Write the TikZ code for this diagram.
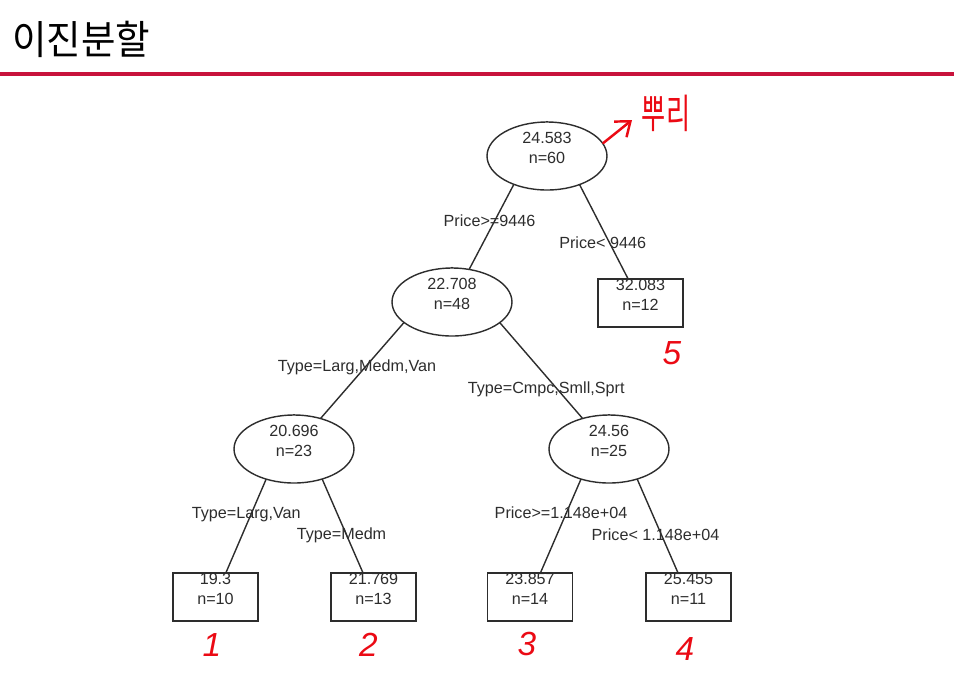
\documentclass[tikz,border=0pt]{standalone}
\usepackage{fontspec}
\setmainfont{Liberation Sans}
\newfontfamily\krfont{Noto Sans CJK KR}
\usepackage{tikz}
\usetikzlibrary{arrows.meta,positioning,shapes.geometric,backgrounds}
\definecolor{trgray}{RGB}{45,45,45}
\definecolor{barred}{RGB}{200,18,60}
\definecolor{penred}{RGB}{235,10,20}

\begin{document}
\begin{tikzpicture}[
  x=0.02cm, y=-0.02cm,
  font=\fontsize{9.2pt}{11.3pt}\selectfont,
  every node/.style={align=center, text=trgray},
  splitnode/.style={ellipse, draw=trgray, line width=0.8pt, fill=white, inner sep=0pt, minimum width=2.4cm, minimum height=1.36cm},
  leafnode/.style={rectangle, draw=trgray, line width=0.8pt, fill=white, inner sep=0pt, minimum width=1.7cm, minimum height=0.96cm},
  val/.style={yshift=0.17cm, inner sep=0pt},
  edge/.style={draw=trgray, line width=0.8pt},
  cut/.style={inner sep=0pt, text height=0.72em, text depth=0pt},
  pen/.style={text=penred, font=\fontsize{19pt}{22pt}\selectfont\itshape, inner sep=0pt}
]
\useasboundingbox (0,0) rectangle (954,698);

% title and bar
\node[anchor=west, inner sep=0pt, text=black, font=\krfont\fontsize{22.7pt}{26pt}\selectfont] (title) at (12,39) {\scalebox{0.94}[1]{이진분할}};
\draw[barred, line width=2.3pt] (0,74) -- (954,74);

% tree
\node[splitnode, label={[val]center:{24.583\\n=60}}] (root) at (547,156) {};
\node[splitnode, label={[val]center:{22.708\\n=48}}] (n48) at (452,302) {};
\node[leafnode, label={[val]center:{32.083\\n=12}}] (leaf5) at (640.5,303) {};
\node[splitnode, label={[val]center:{20.696\\n=23}}] (n23) at (294,449) {};
\node[splitnode, label={[val]center:{24.56\\n=25}}] (n25) at (609,449) {};
\node[leafnode, label={[val]center:{19.3\\n=10}}] (leaf1) at (215.5,597) {};
\node[leafnode, label={[val]center:{21.769\\n=13}}] (leaf2) at (373.5,597) {};
\node[leafnode, label={[val]center:{23.857\\n=14}}] (leaf3) at (530,597) {};
\node[leafnode, label={[val]center:{25.455\\n=11}}] (leaf4) at (688.5,597) {};

\begin{pgfonlayer}{background}
\draw[edge] (root.north) -- node[cut, pos=.547, xshift=-0.11cm]{Price>=9446} (n48.center);
\draw[edge] (root.north) -- node[cut, pos=.665, xshift=-0.13cm]{Price< 9446} (leaf5.center);
\draw[edge] (n48.north) -- node[cut, pos=.541, xshift=-0.19cm]{Type=Larg,Medm,Van} (n23.center);
\draw[edge] (n48.north) -- node[cut, pos=.657, xshift=-0.18cm]{Type=Cmpc,Smll,Sprt} (n25.center);
\draw[edge] (n23.north) -- node[cut, pos=.538, xshift=-0.11cm]{Type=Larg,Van} (leaf1.center);
\draw[edge] (n23.north) -- node[cut, pos=.648, xshift=-0.08cm]{Type=Medm} (leaf2.center);
\draw[edge] (n25.north) -- node[cut, pos=.538, xshift=-0.11cm]{Price>=1.148e+04} (leaf3.center);
\draw[edge] (n25.north) -- node[cut, pos=.654, xshift=-0.11cm]{Price< 1.148e+04} (leaf4.center);
\end{pgfonlayer}

% pen notes
\coordinate (rootTip) at (632,120);
\draw[penred, line width=1.4pt, line cap=round, -{Straight Barb[length=2.6mm,width=4mm]}] (root.13) -- (rootTip);
\node[inner sep=0pt, text=penred, font=\krfont\fontsize{23pt}{26pt}\selectfont] (rootLbl) at (666,113) {\scalebox{0.65}[1]{뿌리}};
\node[pen] (mark5) at (672,353) {5};
\node[pen, below=0.22cm of leaf1, xshift=-0.07cm] (mark1) {1};
\node[pen, below=0.22cm of leaf2, xshift=-0.1cm] (mark2) {2};
\node[pen, below=0.2cm of leaf3, xshift=-0.06cm] (mark3) {3};
\node[pen, below=0.3cm of leaf4, xshift=-0.07cm] (mark4) {4};
\end{tikzpicture}
\end{document}
